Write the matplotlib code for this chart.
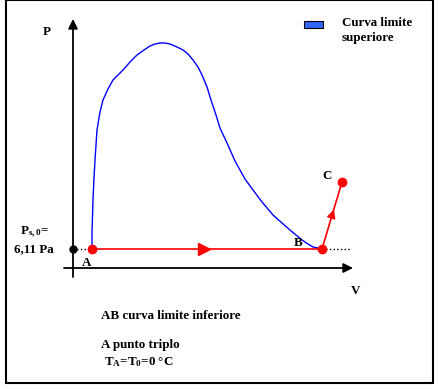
import matplotlib.pyplot as plt
import numpy as np

plt.rcParams['font.family'] = ['Liberation Serif', 'DejaVu Serif']
plt.rcParams['mathtext.fontset'] = 'custom'
plt.rcParams['mathtext.rm'] = 'Liberation Serif:bold'
plt.rcParams['mathtext.bf'] = 'Liberation Serif:bold'
plt.rcParams['mathtext.it'] = 'Liberation Serif:bold'

H = 389  # figure height in px, used to flip y

# Upper limit curve (V, P) in picture units
curve_v = [92, 92, 93, 94, 95, 97, 100, 103, 108, 113, 118, 123, 130, 137,
           144, 150, 155, 160, 165, 170, 177, 183, 188, 193, 198, 202, 207,
           211, 216, 220, 227, 235, 240, 245, 253, 262, 273, 282, 290, 302,
           308, 313, 318, 322]
curve_y = [249, 233, 200, 178, 160, 130, 112, 100, 89, 80, 75, 70, 62, 55,
           50, 46, 44, 43, 43, 44, 47, 50, 54, 60, 67, 75, 87,
           100, 115, 128, 143, 161, 170, 179, 190, 202, 215, 223, 230, 240,
           244, 247, 248, 249]
curve_p = [H - y for y in curve_y]

# Process points A, B, C
pt_names = ['A', 'B', 'C']
pt_v = [92, 322, 342]
pt_p = [H - 249, H - 249, H - 182]
ps0_p = H - 249

fig = plt.figure(figsize=(4.38, 3.89), dpi=100)
ax = fig.add_axes([0, 0, 1, 1])
ax.set_xlim(0, 438)
ax.set_ylim(0, H)
ax.set_axis_off()

# outer frame
ax.add_patch(plt.Rectangle((6, H - 383), 427, 383, fill=False,
                           edgecolor='black', lw=1.5))

# axes with arrows
ax.annotate('', xy=(73, H - 19), xytext=(73, H - 277),
            arrowprops=dict(arrowstyle='-|>', color='black', lw=1.3,
                            mutation_scale=14, shrinkA=0, shrinkB=0))
ax.annotate('', xy=(353, H - 268), xytext=(64, H - 268),
            arrowprops=dict(arrowstyle='-|>', color='black', lw=1.3,
                            mutation_scale=14, shrinkA=0, shrinkB=0))

# blue curve
ax.plot(curve_v, curve_p, color='#0000FF', lw=1)

# dotted lines
ax.plot([73, pt_v[0]], [ps0_p, ps0_p], color='black', lw=1, ls=':')
ax.plot([pt_v[1], 350], [ps0_p, ps0_p], color='black', lw=1, ls=':')
ax.plot([73], [ps0_p], 'o', color='black', ms=5)

# red process lines
ax.plot(pt_v, pt_p, color='red', lw=1.2)
ax.plot(pt_v, pt_p, 'o', color='red', ms=6)
ax.plot([204], [ps0_p], marker='>', color='red', ms=8, mec='red')
mv = (pt_v[1] + pt_v[2]) / 2
mp = (pt_p[1] + pt_p[2]) / 2
ax.annotate('', xy=(mv + 2, mp + 6), xytext=(mv - 1, mp - 3),
            arrowprops=dict(arrowstyle='-|>', color='red', lw=1,
                            mutation_scale=13, shrinkA=0, shrinkB=0))

fs = 9.4
bold = dict(fontsize=fs, fontweight='bold', color='black')
ax.text(47, H - 32, 'P', ha='center', va='center', **bold)
ax.text(356, H - 291, 'V', ha='center', va='center', **bold)
ax.text(87, H - 263, 'A', ha='center', va='center', **bold)
ax.text(298, H - 243, 'B', ha='center', va='center', **bold)
ax.text(327, H - 176, 'C', ha='center', va='center', **bold)
ax.text(34, H - 232, r'P$_{s,0}$=', ha='center', va='center', **bold)
ax.text(34, H - 249, '6,11 Pa', ha='center', va='center', **bold)

# legend
ax.add_patch(plt.Rectangle((304, H - 28), 19, 7, facecolor='#3366FF',
                           edgecolor='black', lw=0.8))
ax.text(342, H - 23, 'Curva limite', ha='left', va='center', **bold)
ax.text(342, H - 38, 'superiore', ha='left', va='center', **bold)

# notes
ax.text(101, H - 316, 'AB curva limite inferiore', ha='left', va='center', **bold)
ax.text(101, H - 345, 'A punto triplo', ha='left', va='center', **bold)
ax.text(104, H - 362, r'T$_{A}$=T$_{0}$=0 °C', ha='left',
        va='center', **bold)

fig.savefig('out.png', dpi=100)
